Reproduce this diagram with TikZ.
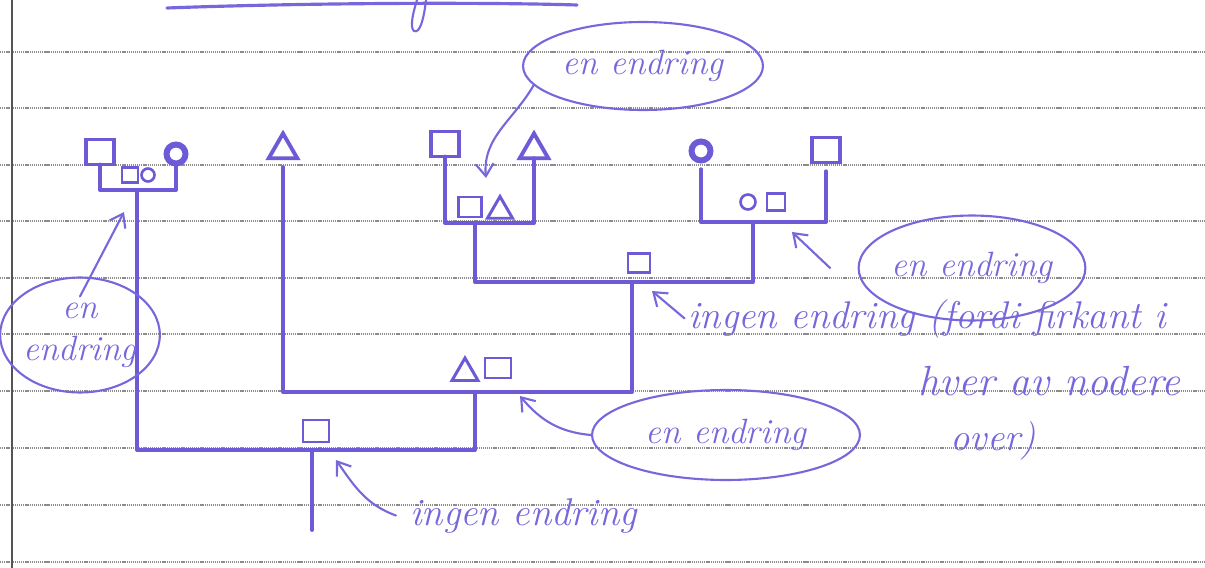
\documentclass[tikz,border=0pt]{standalone}
\usetikzlibrary{shapes.geometric,arrows.meta}
\definecolor{ink}{RGB}{108,90,214}
\definecolor{pencol}{RGB}{118,104,220}
\definecolor{rulecol}{RGB}{140,140,140}
\begin{document}
\begin{tikzpicture}[x=0.02cm,y=-0.02cm,
  ink/.style={draw=ink, line width=2.2pt, line join=round, line cap=round},
  pen/.style={draw=pencol, line width=1.2pt, line cap=round, line join=round},
  arr/.style={pen, -{Straight Barb[length=7pt,width=10pt]}},
  bigsq/.style={draw=ink, line width=2.2pt, minimum width=0.56cm, minimum height=0.5cm, inner sep=0pt, outer sep=0pt},
  smsq/.style={draw=ink, line width=1.7pt, inner sep=0pt, outer sep=0pt},
  bigtri/.style={regular polygon, regular polygon sides=3, draw=ink, line width=2.2pt, minimum size=0.66cm, inner sep=0pt, outer sep=0pt},
  smtri/.style={regular polygon, regular polygon sides=3, draw=ink, line width=1.7pt, minimum size=0.58cm, inner sep=0pt, outer sep=0pt},
  bigci/.style={circle, draw=ink, line width=3.4pt, minimum size=0.38cm, inner sep=0pt, outer sep=0pt},
  smci/.style={circle, draw=ink, line width=1.5pt, minimum size=0.28cm, inner sep=0pt, outer sep=0pt},
  hand/.style={text=pencol, font=\fontsize{22}{24}\selectfont\itshape, inner sep=0pt},
  bubble/.style={ellipse, pen, inner sep=0pt, text=pencol, font=\fontsize{20}{24}\selectfont\itshape, align=center}
]
\useasboundingbox (0,0) rectangle (1205,568);
\fill[white] (0,0) rectangle (1205,568);
% ruled paper
\foreach \yy in {52,108,165,221,278,334,391,448,505,562}
  \draw[rulecol, line width=0.7pt, dash pattern=on 0.7pt off 0.5pt] (0,\yy) -- (1205,\yy);
\draw[rulecol!60!black, line width=1.6pt] (12,0) -- (12,568);
% cropped heading at the top
\draw[pen, line width=1.8pt] (167,8) .. controls (300,3) and (480,2) .. (577,5);
\draw[pen] (426,0) .. controls (424,18) and (420,34) .. (414,31) .. controls (409,27) and (414,10) .. (417,0);

% ---- taxa and internal labels ----
\node[bigsq] (Asq) at (100,152) {};
\node[bigci] (Aci) at (176,154) {};
\node[smsq, minimum width=0.32cm, minimum height=0.3cm] (Alsq) at (130,175) {};
\node[smci, minimum size=0.26cm] (Alci) at (148,175) {};
\coordinate (j1) at (137,190);

\node[bigtri] (B) at (283,150) {};

\node[bigsq] (Csq) at (445,144) {};
\node[bigtri] (Ctri) at (534,150) {};
\node[smsq, minimum width=0.46cm, minimum height=0.4cm] (Clsq) at (470,207) {};
\node[smtri] (Cltri) at (500,211) {};
\coordinate (j2) at (475,223);

\node[bigci] (Dci) at (701,151) {};
\node[bigsq] (Dsq) at (826,150) {};
\node[smci, minimum size=0.3cm] (Dlci) at (748,202) {};
\node[smsq, minimum width=0.36cm, minimum height=0.34cm] (Dlsq) at (776,202) {};
\coordinate (j3) at (753,222);

\coordinate (k2) at (632,282);
\node[smsq, minimum width=0.44cm, minimum height=0.38cm] (k2s) at (639,263) {};

\coordinate (k1) at (475,392);
\node[smtri, minimum size=0.6cm] (k1t) at (465,373) {};
\node[smsq, minimum width=0.52cm, minimum height=0.4cm] (k1s) at (498,368) {};

\coordinate (r0) at (312,450);
\coordinate (root) at (312,530);
\node[smsq, minimum width=0.52cm, minimum height=0.44cm] (rs) at (316,431) {};

% ---- tree branches ----
\draw[ink] (Asq.south) |- (j1) -| (Aci.south);
\draw[ink] (j1) |- (r0) -| (k1);
\draw[ink] (r0) -- (root);
\draw[ink] ([yshift=-5pt]B.south) |- (k1) -| (k2);
\draw[ink] (Csq.south) |- (j2) -| (Ctri.south);
\draw[ink] (j2) |- (k2) -| (j3);
\draw[ink] ([yshift=-5pt]Dci.south) |- (j3) -| ([yshift=-5pt]Dsq.south);

% ---- annotations ----
\node[bubble, minimum width=4.8cm, minimum height=1.76cm] (e1) at (643,66) {en endring};
\node[bubble, minimum width=2.9cm, minimum height=2.3cm] (e2) at (80,335) {en\\endring};
\node[bubble, minimum width=4.5cm, minimum height=2.1cm] (e3) at (972,268) {en endring};
\node[bubble, minimum width=5.36cm, minimum height=1.8cm] (e5) at (726,435) {en endring};
\node[hand, anchor=base west] (t4a) at (688,328) {ingen endring (fordi firkant i};
\node[hand, anchor=base west, font=\fontsize{24}{26}\selectfont\itshape] (t4b) at (918,395) {hver av nodere};
\node[hand, anchor=base west] (t4c) at (950,450) {over)};
\node[hand, anchor=base west] (t6) at (410,525) {ingen endring};

\coordinate (a1) at (486,178);
\coordinate (a2) at (124,212);
\coordinate (a3) at (792,232);
\coordinate (a4) at (652,291);
\coordinate (a5) at (520,396);
\coordinate (a6) at (336,460);
\draw[arr] (e1.190) to[out=240,in=95] (a1);
\draw[arr] ([yshift=-0.4cm]e2.north) -- (a2);
\draw[arr] ([xshift=-0.55cm]e3.west) -- (a3);
\draw[arr] ([xshift=-2pt]t4a.west) -- (a4);
\draw[arr] (e5.west) to[out=175,in=-50] (a5);
\draw[arr] ([xshift=-8pt]t6.west) to[out=160,in=-55] (a6);
\end{tikzpicture}
\end{document}
